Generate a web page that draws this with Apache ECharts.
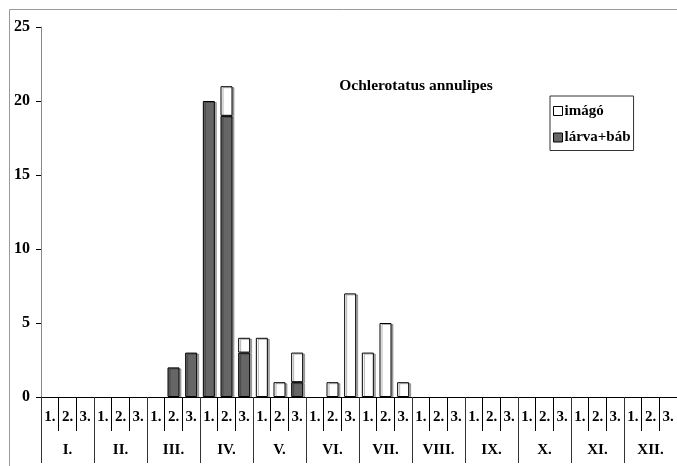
<!DOCTYPE html>
<html>
<head>
<meta charset="utf-8">
<script src="https://cdn.jsdelivr.net/npm/echarts@6/dist/echarts.min.js"></script>
<style>html,body{margin:0;padding:0;background:#fff}#c{width:677px;height:466px}</style>
</head>
<body>
<div id="c"></div>
<script>
const decades = ['1.','2.','3.','1.','2.','3.','1.','2.','3.','1.','2.','3.','1.','2.','3.','1.','2.','3.','1.','2.','3.','1.','2.','3.','1.','2.','3.','1.','2.','3.','1.','2.','3.','1.','2.','3.'];
const months = ['I.','II.','III.','IV.','V.','VI.','VII.','VIII.','IX.','X.','XI.','XII.'];
const larva = [0,0,0, 0,0,0, 0,2,3, 20,19,3, 0,0,1, 0,0,0, 0,0,0, 0,0,0, 0,0,0, 0,0,0, 0,0,0, 0,0,0];
const imago = [0,0,0, 0,0,0, 0,0,0, 0,2,1, 4,1,2, 0,1,7, 3,5,1, 0,0,0, 0,0,0, 0,0,0, 0,0,0, 0,0,0];
const yTicks = [0,5,10,15,20,25];

const font = '"Liberation Serif", "Times New Roman", serif';
const chart = echarts.init(document.getElementById('c'));
const shadow = {shadowColor:'rgba(0,0,0,0.3)', shadowOffsetX:2, shadowOffsetY:1, shadowBlur:0};
const nz = arr => arr.map(v => v === 0 ? null : v);
chart.setOption({
  animation:false,
  graphic:[{type:'rect', shape:{x:9.5,y:9.5,width:700,height:500}, style:{fill:'none', stroke:'#999', lineWidth:1}, silent:true}],
  title:{text:'Ochlerotatus annulipes', left:411, top:73, textAlign:'center',
    textStyle:{fontFamily:font, fontWeight:'bold', fontSize:15.5, color:'#000'}},
  legend:{orient:'vertical', left:550, top:96, itemWidth:9, itemHeight:9, itemGap:10.5,
    padding:[7,3,5,3], borderColor:'#333', borderWidth:1, icon:'rect',
    textStyle:{fontFamily:font, fontWeight:'bold', fontSize:15, lineHeight:16, color:'#000', padding:[0,0,0,-3]},
    data:[{name:'imágó', itemStyle:{color:'#fff', borderColor:'#000', borderWidth:1}},
          {name:'lárva+báb', itemStyle:{color:'#666', borderColor:'#000', borderWidth:1}}]},
  grid:{left:41, top:27, width:646, height:370, containLabel:false},
  xAxis:[
    {type:'category', data:decades, position:'bottom',
      axisLine:{show:true, lineStyle:{color:'#000', width:1}},
      axisTick:{show:true, interval:0, length:34, lineStyle:{color:'#000'}},
      axisLabel:{interval:0, margin:13, fontFamily:font, fontWeight:'bold', fontSize:15, color:'#000'}},
    {type:'category', data:months, position:'bottom',
      axisLine:{show:false},
      axisTick:{show:true, interval:0, length:66, lineStyle:{color:'#333'}},
      axisLabel:{interval:0, margin:46, fontFamily:font, fontWeight:'bold', fontSize:15, color:'#000'}}
  ],
  yAxis:{type:'value', min:0, max:25, interval:5,
    axisLine:{show:true, lineStyle:{color:'#888'}},
    axisTick:{show:true, length:5, lineStyle:{color:'#000'}},
    splitLine:{show:false},
    axisLabel:{margin:11, fontFamily:font, fontWeight:'bold', fontSize:16, color:'#000',
      formatter:v => yTicks.includes(v) ? String(v) : ''}},
  series:[
    {name:'lárva+báb', type:'bar', stack:'a', data:nz(larva), barWidth:12, xAxisIndex:0,
      itemStyle:Object.assign({color:'#666', borderColor:'#000', borderWidth:1}, shadow)},
    {name:'imágó', type:'bar', stack:'a', data:nz(imago), barWidth:12, xAxisIndex:0,
      itemStyle:Object.assign({color:'#fff', borderColor:'#000', borderWidth:1}, shadow)}
  ]
});
</script>
</body>
</html>
